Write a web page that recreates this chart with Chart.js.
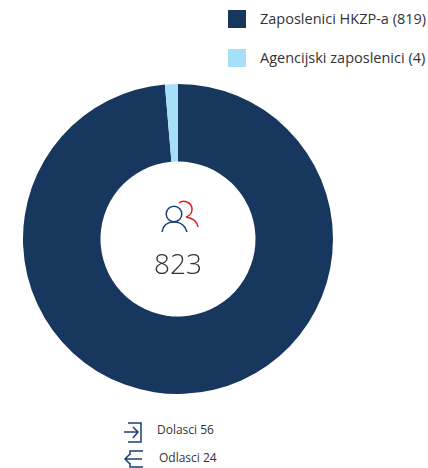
<!DOCTYPE html>
<html>
<head>
<meta charset="utf-8">
<script src="https://cdn.jsdelivr.net/npm/chart.js@4"></script>
<style>
  html, body { margin: 0; padding: 0; background: #fff; }
  body { position: relative; width: 428px; height: 468px; overflow: hidden; font-family: "Open Sans", sans-serif; color: #333335; }
  #chartBox { position: absolute; left: 18px; top: 79px; width: 320px; height: 320px; }
  .legend-swatch { position: absolute; left: 228px; width: 18px; height: 18px; }
  .legend-label { position: absolute; left: 260px; font-size: 14.5px; line-height: 20px; white-space: nowrap; }
  #total { position: absolute; left: 128px; width: 100px; top: 242px; text-align: center; font-size: 28px; line-height: 42px; font-weight: 300; }
  .flow { position: absolute; font-size: 12px; line-height: 16px; white-space: nowrap; }
  svg { position: absolute; left: 0; top: 0; }
</style>
</head>
<body>
<div id="chartBox"><canvas id="chart"></canvas></div>
<div id="legend"></div>
<div id="total"></div>
<div class="flow" id="flowIn" style="left:157px;top:422px"></div>
<div class="flow" id="flowOut" style="left:159px;top:450px"></div>
<svg width="428" height="468" fill="none" stroke-width="1.5">
  <g stroke="#1b3f73">
    <circle cx="174" cy="214" r="7.8"/>
    <path d="M162 232 C163 225 168 222 174 222 C180 222 185 225 187 232"/>
    <path d="M128 423 H141 V442 H128 M124 432 H138 M133 427 L138 432 L133 438"/>
    <path d="M143 451 H130 V455 M130 463 V467 H143 M125 459 H142 M130 454 L125 459 L130 464"/>
  </g>
  <g stroke="#e2202c">
    <path d="M179 203 C184 199 192 203 192 209 C192 214 189 216 186 217 C192 218 197 221 198 227"/>
  </g>
</svg>
<script>
const categories = ["Zaposlenici HKZP-a (819)", "Agencijski zaposlenici (4)"];
// slice shares as drawn in the picture (the thin slice is wider than 4/823)
const sliceShares = [98.65, 1.35];
const sliceColors = ["#17375f", "#a6dff8"];
const legendTops = [10, 49];
const totalLabel = "823";
const flowLabels = ["Dolasci 56", "Odlasci 24"];

new Chart(document.getElementById("chart"), {
  type: "doughnut",
  data: {
    labels: categories,
    datasets: [{
      data: sliceShares,
      backgroundColor: sliceColors,
      borderWidth: 0
    }]
  },
  options: {
    responsive: true,
    maintainAspectRatio: false,
    animation: false,
    cutout: "50%",
    radius: 155,
    layout: { padding: 0 },
    plugins: {
      legend: { display: false },
      tooltip: { enabled: false }
    }
  }
});

document.getElementById("legend").innerHTML = categories
  .map((label, i) => `
    <div class="legend-swatch" style="top:${legendTops[i]}px;background:${sliceColors[i]}"></div>
    <div class="legend-label" style="top:${legendTops[i] - 1}px">${label}</div>
  `)
  .join("");
document.getElementById("total").textContent = totalLabel;
document.getElementById("flowIn").textContent = flowLabels[0];
document.getElementById("flowOut").textContent = flowLabels[1];
</script>
</body>
</html>
